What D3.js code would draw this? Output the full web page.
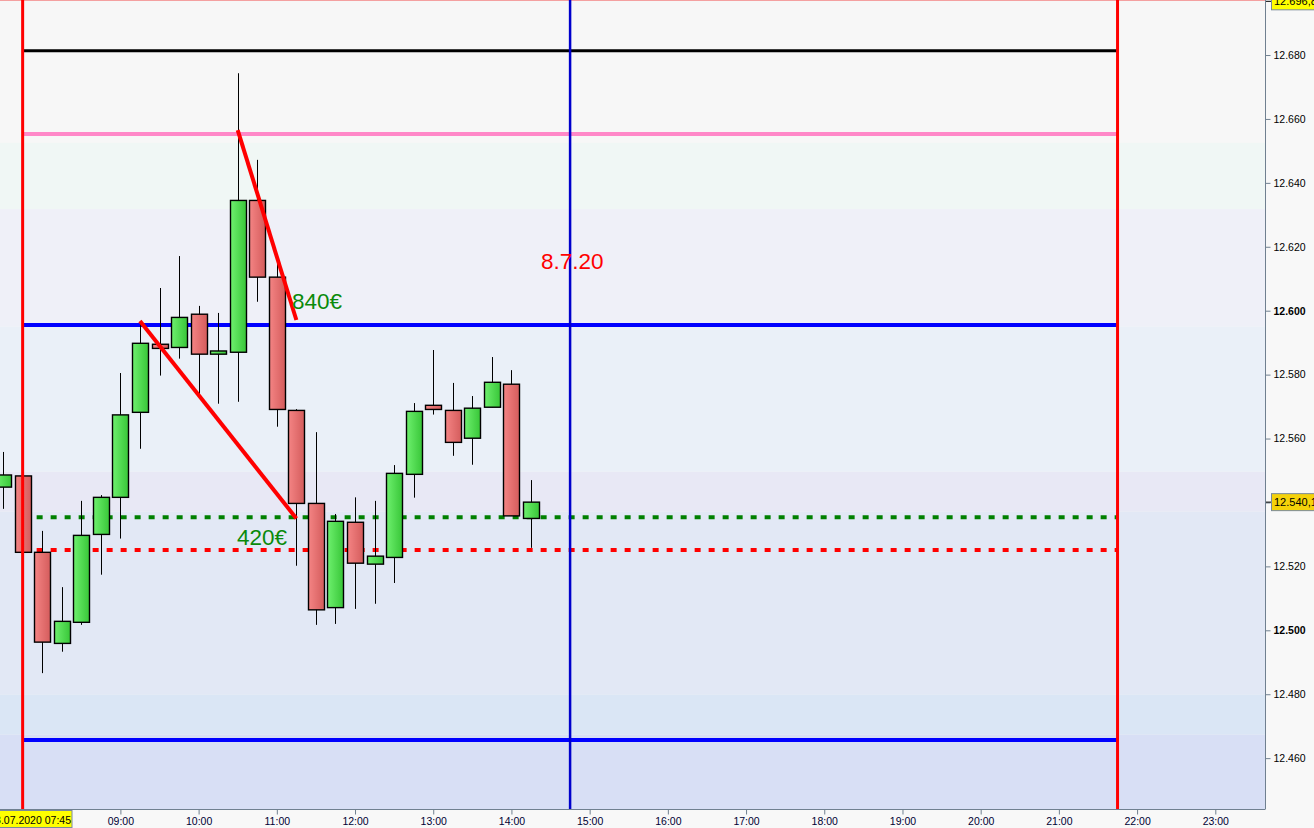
<!DOCTYPE html>
<html>
<head>
<meta charset="utf-8">
<script src="https://cdn.jsdelivr.net/npm/d3@7"></script>
<style>
  body { margin: 0; background: #f8f8f8; }
  svg { display: block; font-family: "Liberation Sans", Arial, sans-serif; }
</style>
</head>
<body>
<div id="chart"></div>
<script>
// 15 minute candles, 08.07.2020
const candleTimes = ["07:30","07:45","08:00","08:15","08:30","08:45","09:00","09:15","09:30","09:45",
  "10:00","10:15","10:30","10:45","11:00","11:15","11:30","11:45","12:00","12:15",
  "12:30","12:45","13:00","13:15","13:30","13:45","14:00","14:15"];
const opens = [12544.8,12548.3,12524.4,12495.9,12502.5,12530.0,12541.6,12568.2,12589.5,12588.5,
  12598.9,12586.4,12587.0,12634.5,12610.5,12568.8,12539.7,12507.1,12533.8,12520.7,
  12522.8,12548.8,12570.4,12568.8,12560.1,12569.8,12577.0,12535.0];
const highs = [12555.8,12548.5,12531.1,12513.5,12540.5,12542.3,12580.5,12596.5,12607.1,12617.1,
  12601.5,12599.3,12674.3,12647.2,12615.2,12569.2,12562.0,12536.4,12541.6,12540.5,
  12551.7,12571.1,12587.7,12577.4,12573.3,12585.5,12581.4,12547.0];
const lows = [12538.0,12524.2,12486.6,12493.3,12501.7,12517.4,12528.7,12556.8,12579.7,12585.0,
  12573.6,12570.9,12571.5,12602.8,12563.7,12520.2,12501.7,12502.0,12506.7,12508.3,
  12514.8,12541.5,12567.5,12554.6,12551.8,12569.8,12535.8,12525.8];
const closes = [12548.6,12524.4,12496.3,12502.8,12529.7,12541.6,12567.4,12589.8,12588.2,12597.9,
  12586.4,12587.4,12634.5,12610.5,12569.1,12539.7,12506.4,12534.1,12521.0,12523.2,
  12549.1,12568.5,12569.1,12558.8,12569.5,12577.6,12535.8,12540.1];

const yTicks = [12460,12480,12500,12520,12540,12560,12580,12600,12620,12640,12660,12680];
const xTickHours = ["08:00","09:00","10:00","11:00","12:00","13:00","14:00","15:00","16:00",
  "17:00","18:00","19:00","20:00","21:00","22:00","23:00"];

// shaded price zones (top value, bottom value, colour)
const bandTops = [12697, 12652.5, 12631.8, 12595.0, 12549.6, 12537.1, 12479.8, 12467.3];
const bandBottoms = [12652.5, 12631.8, 12595.0, 12549.6, 12537.1, 12479.8, 12467.3, 12440];
const bandColors = ["#f7f7f7","#f0f7f5","#eff0f8","#eaf0f8","#e8e8f5","#e2e8f5","#dae6f5","#d8dff5"];

// horizontal levels
const levelValues = [12681.3, 12655.3, 12595.5, 12465.7, 12535.4, 12525.1];
const levelColors = ["#000000", "#ff88c8", "#0000ff", "#0000ff", "#008000", "#ff0000"];
const levelDashed = [false, false, false, false, true, true];
const levelStart = "07:45", levelEnd = "21:45";

// vertical markers
const vlineTimes = ["07:45", "14:45", "21:45"];
const vlineColors = ["#ff0000", "#0000cc", "#ff0000"];

// trend lines
const trendStarts = [["09:15", 12596.8], ["10:30", 12656.5]];
const trendEnds = [["11:15", 12535.0], ["11:15", 12597.1]];

const lastPrice = "12.540,1", topPrice = "12.696,8", startLabel = "08.07.2020 07:45";

const W = 1314, H = 828, plotRight = 1265, plotBottom = 809;
const t = s => { const [h, m] = s.split(":").map(Number); return new Date(2020, 6, 8, h, m); };

const x = d3.scaleTime().domain([t("09:00"), t("23:00")]).range([120.4, 1215.3]);
const y = d3.scaleLinear().domain([12500, 12600]).range([630.3, 310.7]);

const svg = d3.select("#chart").append("svg").attr("width", W).attr("height", H);

const defs = svg.append("defs");
function grad(id, c1, c2) {
  const g = defs.append("linearGradient").attr("id", id).attr("x1", "0").attr("x2", "1").attr("y1", "0").attr("y2", "0");
  g.append("stop").attr("offset", "0").attr("stop-color", c1);
  g.append("stop").attr("offset", "1").attr("stop-color", c2);
}
grad("gUp", "#6ef06e", "#38c638");
grad("gDown", "#f48484", "#d45c5c");
defs.append("clipPath").attr("id", "plotClip").append("rect")
  .attr("x", 0).attr("y", 0).attr("width", plotRight).attr("height", plotBottom);

const plot = svg.append("g").attr("clip-path", "url(#plotClip)");

// bands
plot.selectAll(".band").data(bandColors).enter().append("rect")
  .attr("x", 0).attr("width", plotRight)
  .attr("y", (d, i) => y(bandTops[i]))
  .attr("height", (d, i) => y(bandBottoms[i]) - y(bandTops[i]))
  .attr("fill", d => d);

plot.append("line").attr("x1", 0).attr("x2", plotRight).attr("y1", 0.5).attr("y2", 0.5)
  .attr("stroke", "#f4a0a0").attr("stroke-width", 1);

// horizontal levels
plot.selectAll(".level").data(levelValues).enter().append("line")
  .attr("x1", x(t(levelStart))).attr("x2", x(t(levelEnd)))
  .attr("y1", d => y(d)).attr("y2", d => y(d))
  .attr("stroke", (d, i) => levelColors[i])
  .attr("stroke-width", (d, i) => levelDashed[i] ? 4 : (i === 0 ? 3 : 4))
  .attr("stroke-dasharray", (d, i) => levelDashed[i] ? "6,8" : null);

// candles
const candles = candleTimes.map((c, i) => ({ time: t(c), o: opens[i], h: highs[i], l: lows[i], c: closes[i] }));
const cw = 16;
const cg = plot.selectAll(".candle").data(candles).enter().append("g");
cg.append("line")
  .attr("x1", d => Math.round(x(d.time)) + 0.5).attr("x2", d => Math.round(x(d.time)) + 0.5)
  .attr("y1", d => y(d.h)).attr("y2", d => y(d.l))
  .attr("stroke", "#000").attr("stroke-width", 1);
cg.append("rect")
  .attr("x", d => Math.round(x(d.time)) + 0.5 - cw / 2)
  .attr("width", cw)
  .attr("y", d => y(Math.max(d.o, d.c)))
  .attr("height", d => Math.max(2, y(Math.min(d.o, d.c)) - y(Math.max(d.o, d.c))))
  .attr("fill", d => d.c >= d.o ? "url(#gUp)" : "url(#gDown)")
  .attr("stroke", "#000").attr("stroke-width", 1.4);

// vertical markers
plot.selectAll(".vline").data(vlineTimes).enter().append("line")
  .attr("x1", d => x(t(d))).attr("x2", d => x(t(d)))
  .attr("y1", 0).attr("y2", plotBottom)
  .attr("stroke", (d, i) => vlineColors[i])
  .attr("stroke-width", (d, i) => i === 1 ? 2.5 : 3);

// trend lines
plot.selectAll(".trend").data(trendStarts).enter().append("line")
  .attr("x1", d => x(t(d[0]))).attr("y1", d => y(d[1]))
  .attr("x2", (d, i) => x(t(trendEnds[i][0]))).attr("y2", (d, i) => y(trendEnds[i][1]))
  .attr("stroke", "#ff0000").attr("stroke-width", 4);

// annotations
plot.append("text").attr("x", 292).attr("y", 309).attr("fill", "#0a8a0a")
  .attr("font-size", 22.5).text("840€");
plot.append("text").attr("x", 237).attr("y", 545).attr("fill", "#0a8a0a")
  .attr("font-size", 22.5).text("420€");
plot.append("text").attr("x", 541).attr("y", 269).attr("fill", "#ff0000")
  .attr("font-size", 22.5).text("8.7.20");

// axes
const yAxis = svg.append("g").attr("transform", `translate(${plotRight + 0.5},0)`)
  .call(d3.axisRight(y).tickValues(yTicks).tickSize(5).tickSizeOuter(0)
    .tickFormat(v => (v / 1000).toFixed(3)));
yAxis.select(".domain").attr("d", `M0,0V${plotBottom}`);
yAxis.selectAll(".tick text").attr("font-size", 10.5).attr("font-family", "Liberation Sans, Arial")
  .attr("fill", "#000").attr("font-weight", d => d % 100 === 0 ? "bold" : "normal");
// the last-price tag covers this tick label
yAxis.selectAll(".tick text").filter(d => d === 12540).remove();

const xAxis = svg.append("g").attr("transform", `translate(0,${plotBottom + 0.5})`)
  .call(d3.axisBottom(x).tickValues(xTickHours.map(t)).tickSize(5).tickSizeOuter(0)
    .tickFormat(d3.timeFormat("%H:%M")));
xAxis.select(".domain").attr("d", `M0,0H${plotRight + 0.5}`);
xAxis.selectAll(".tick text").attr("font-size", 10.5).attr("font-family", "Liberation Sans, Arial")
  .attr("fill", "#000033");
// the start-date tag covers the 08:00 label
xAxis.selectAll(".tick text").filter(d => d.getHours() === 8).remove();
svg.selectAll(".domain, .tick line").attr("stroke", "#708090");

// price labels
function priceTag(val, label, fill) {
  const yy = y(val);
  svg.append("line").attr("x1", plotRight + 1).attr("x2", plotRight + 6).attr("y1", yy).attr("y2", yy)
    .attr("stroke", "#000");
  svg.append("rect").attr("x", plotRight + 6.5).attr("y", yy - 8.5).attr("width", 60).attr("height", 17)
    .attr("fill", fill).attr("stroke", "#7a8a9a");
  svg.append("text").attr("x", plotRight + 9).attr("y", yy + 4).attr("font-size", 11).attr("fill", "#000")
    .text(label);
}
priceTag(12696.8, topPrice, "#ffff00");
priceTag(12540.1, lastPrice, "#f5d20a");

svg.append("rect").attr("x", -5).attr("y", plotBottom + 1.5).attr("width", 77).attr("height", 17)
  .attr("fill", "#ffff00").attr("stroke", "#7a8a9a");
svg.append("text").attr("x", 71).attr("y", plotBottom + 15).attr("text-anchor", "end")
  .attr("font-size", 10.5).attr("fill", "#000").text(startLabel);
</script>
</body>
</html>
